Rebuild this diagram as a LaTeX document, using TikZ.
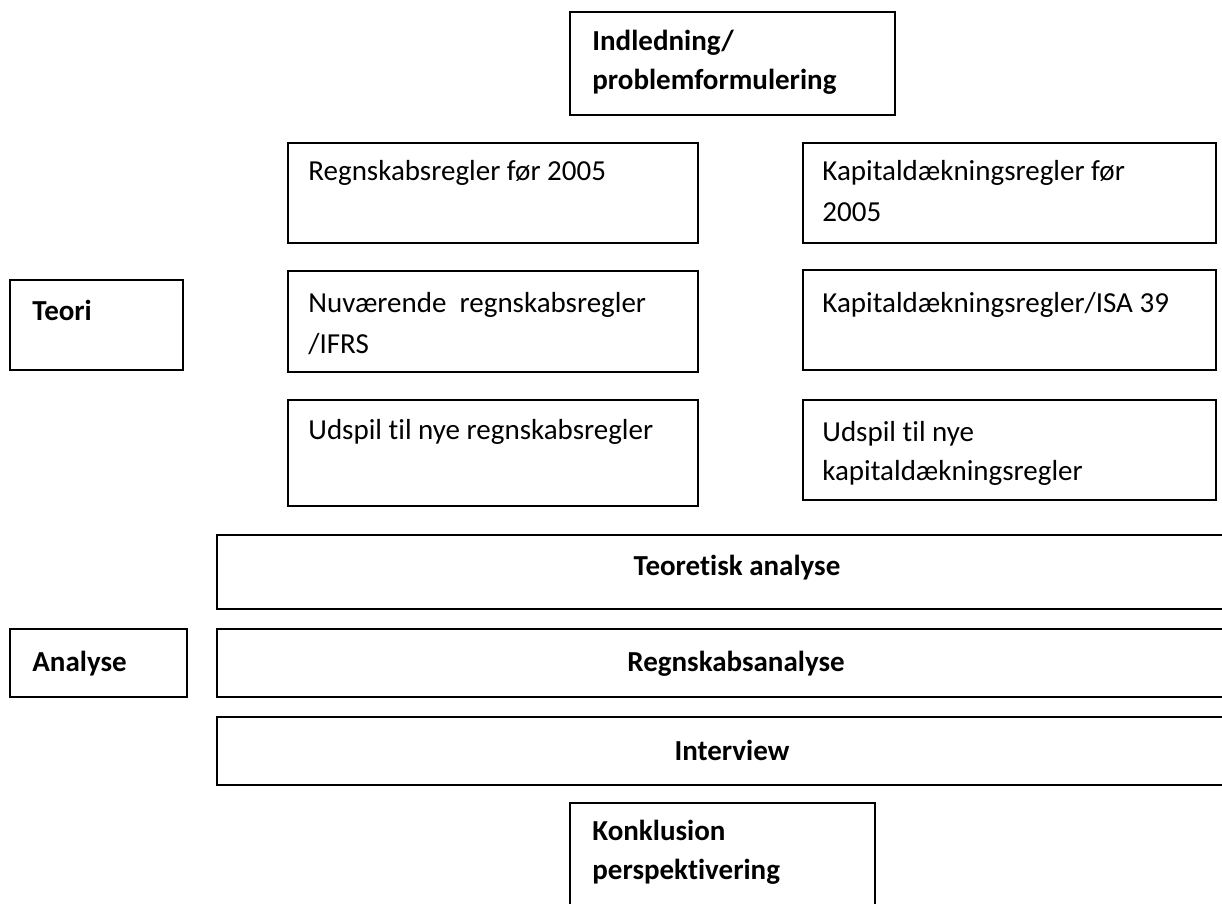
\documentclass[tikz,border=0pt]{standalone}
\usepackage{fontspec}
\setmainfont[Ligatures={NoCommon,NoRequired,NoContextual}]{Carlito}
\begin{document}
\begin{tikzpicture}[x=0.5pt,y=-0.5pt,
  box/.style={draw=black,line width=1pt,inner sep=0pt,outer sep=0pt,anchor=north west},
  lbl/.style={inner sep=0pt,anchor=base west,font=\fontsize{14.5}{17}\selectfont},
  blbl/.style={inner sep=0pt,anchor=base west,font=\fontsize{14.5}{17}\selectfont\bfseries},
  cblbl/.style={blbl,anchor=base},
]
\useasboundingbox (0,0) rectangle (1222,904);
\clip (0,0) rectangle (1222,904);

% boxes
\node[box,minimum width=162.5pt,minimum height=51.5pt] (indl) at (570,12) {};
\node[box,minimum width=205pt,minimum height=50pt] (regn1) at (288,143) {};
\node[box,minimum width=206.5pt,minimum height=50pt] (kap1) at (803,143) {};
\node[box,minimum width=86.5pt,minimum height=45pt] (teori) at (10,280) {};
\node[box,minimum width=205pt,minimum height=50.5pt] (regn2) at (288,271) {};
\node[box,minimum width=206.5pt,minimum height=50pt] (kap2) at (803,270) {};
\node[box,minimum width=205pt,minimum height=53pt] (regn3) at (288,400) {};
\node[box,minimum width=206.5pt,minimum height=50pt] (kap3) at (803,400) {};
\node[box,minimum width=521.5pt,minimum height=37pt] (teoan) at (217,535) {};
\node[box,minimum width=88.5pt,minimum height=34pt] (analyse) at (10,629) {};
\node[box,minimum width=521.5pt,minimum height=34pt] (regnan) at (217,629) {};
\node[box,minimum width=521.5pt,minimum height=34pt] (interv) at (217,717) {};
\node[box,minimum width=152.5pt,minimum height=63.5pt] (konkl) at (570,803) {};

% texts
\node[blbl] (t-indl1) at (592,51) {Indledning/};
\node[blbl] (t-indl2) at (592,90) {problemformulering};
\node[lbl] (t-regn1) at (308,181) {Regnskabsregler før 2005};
\node[lbl] (t-kap1a) at (822,181) {Kapitaldækningsregler før};
\node[lbl] (t-kap1b) at (822,221) {2005};
\node[blbl] (t-teori) at (32,320) {Teori};
\node[lbl] (t-regn2a) at (308,313) {Nuværende\ \ regnskabsregler};
\node[lbl] (t-regn2b) at (308,353) {/IFRS};
\node[lbl] (t-kap2) at (822,312) {Kapitaldækningsregler/ISA 39};
\node[lbl] (t-regn3) at (308,439) {Udspil til nye regnskabsregler};
\node[lbl] (t-kap3a) at (822,441) {Udspil til nye};
\node[lbl] (t-kap3b) at (822,480) {kapitaldækningsregler};
\node[cblbl] (t-teoan) at (737,575) {Teoretisk analyse};
\node[blbl] (t-analyse) at (32,671) {Analyse};
\node[cblbl] (t-regnan) at (736,671) {Regnskabsanalyse};
\node[cblbl] (t-interv) at (732,760) {Interview};
\node[blbl] (t-konkl1) at (592,840) {Konklusion};
\node[blbl] (t-konkl2) at (592,879) {perspektivering};
\end{tikzpicture}
\end{document}
